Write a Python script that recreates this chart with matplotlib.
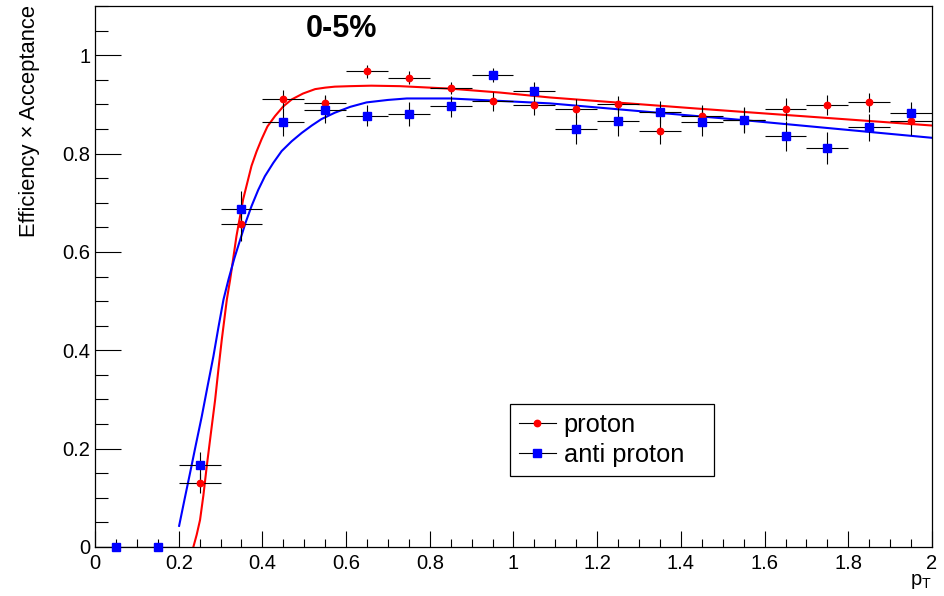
"""
Efficiency x acceptance of protons / anti-protons vs pT, 0-5% centrality.
ROOT-looking canvas redone in matplotlib, writes out.png.
"""

import matplotlib
matplotlib.use("Agg")
import matplotlib.pyplot as plt
from matplotlib.lines import Line2D
from matplotlib.ticker import MultipleLocator


# ============================ data ============================
PT       = [0.05, 0.15, 0.25, 0.35, 0.45, 0.55, 0.65, 0.75, 0.85, 0.95,
            1.05, 1.15, 1.25, 1.35, 1.45, 1.55, 1.65, 1.75, 1.85, 1.95]
PT_ERR   = [0.05] * len(PT)                      # half bin width

PROTON     = [0.0, 0.0, 0.130, 0.656, 0.911, 0.902, 0.967, 0.954, 0.933, 0.906,
              0.899, 0.891, 0.900, 0.846, 0.876, 0.868, 0.890, 0.899, 0.904, 0.866]
PROTON_ERR = [0.0, 0.0, 0.020, 0.033, 0.019, 0.018, 0.014, 0.013, 0.012, 0.020,
              0.020, 0.019, 0.018, 0.027, 0.022, 0.025, 0.022, 0.020, 0.020, 0.028]

ANTI       = [0.0, 0.0, 0.166, 0.688, 0.864, 0.889, 0.877, 0.880, 0.896, 0.960,
              0.928, 0.849, 0.866, 0.885, 0.865, 0.868, 0.836, 0.811, 0.853, 0.882]
ANTI_ERR   = [0.0, 0.0, 0.027, 0.035, 0.029, 0.027, 0.022, 0.024, 0.022, 0.014,
              0.017, 0.030, 0.031, 0.022, 0.029, 0.027, 0.031, 0.032, 0.028, 0.022]

# fit curves, points
FIT_P_X = [0.235, 0.243, 0.251, 0.259, 0.267, 0.277, 0.287, 0.295, 0.303, 0.315, 0.323,
           0.338, 0.354, 0.374, 0.386, 0.398, 0.412, 0.430, 0.450, 0.470, 0.497, 0.526,
           0.550, 0.573, 0.609, 0.660, 0.729, 0.848, 0.968, 1.087, 1.446, 2.0]
FIT_P_Y = [0.000, 0.025, 0.055, 0.105, 0.164, 0.232, 0.299, 0.362, 0.422, 0.503, 0.544,
           0.632, 0.707, 0.775, 0.804, 0.829, 0.855, 0.876, 0.896, 0.910, 0.922, 0.931,
           0.934, 0.936, 0.937, 0.938, 0.937, 0.932, 0.924, 0.914, 0.891, 0.857]

FIT_A_X = [0.201, 0.214, 0.227, 0.241, 0.255, 0.269, 0.283, 0.295, 0.307, 0.319, 0.333,
           0.347, 0.360, 0.374, 0.390, 0.406, 0.426, 0.446, 0.470, 0.494, 0.518, 0.541,
           0.573, 0.610, 0.649, 0.700, 0.745, 0.848, 0.968, 1.087, 1.549, 2.0]
FIT_A_Y = [0.043, 0.097, 0.150, 0.208, 0.265, 0.327, 0.388, 0.447, 0.503, 0.544, 0.587,
           0.625, 0.660, 0.693, 0.726, 0.754, 0.781, 0.805, 0.825, 0.842, 0.857, 0.870,
           0.883, 0.895, 0.904, 0.909, 0.912, 0.912, 0.907, 0.902, 0.868, 0.832]

TITLE  = "0-5%"
YLABEL = "Efficiency \u00d7 Acceptance"
XLABEL = r"p$_\mathregular{T}$"
# ==============================================================

plt.rcParams["font.family"] = ["Liberation Sans", "DejaVu Sans"]

fig = plt.figure(figsize=(9.45, 5.96), dpi=100)
ax = fig.add_axes([95 / 945, 49 / 596, 837 / 945, 541 / 596])

# fits first, points on top
ax.plot(FIT_P_X, FIT_P_Y, color="red", lw=1.5, zorder=2)
ax.plot(FIT_A_X, FIT_A_Y, color="blue", lw=1.5, zorder=2)

for y, yerr, col, mk, ms in [(PROTON, PROTON_ERR, "red", "o", 4.6),
                              (ANTI, ANTI_ERR, "blue", "s", 5.2)]:
    ax.errorbar(PT, y, xerr=PT_ERR, yerr=yerr, fmt="none", ecolor="black",
                elinewidth=0.8, capsize=0, zorder=3)
    ax.plot(PT, y, ls="none", marker=mk, ms=ms, color=col, mec=col, zorder=4,
            clip_on=False)

ax.set_xlim(0, 2)
ax.set_ylim(0, 1.1)
ax.xaxis.set_minor_locator(MultipleLocator(0.05))
ax.yaxis.set_minor_locator(MultipleLocator(0.05))
ax.set_xticks([0, 0.2, 0.4, 0.6, 0.8, 1, 1.2, 1.4, 1.6, 1.8, 2])
ax.set_xticklabels(["0", "0.2", "0.4", "0.6", "0.8", "1", "1.2", "1.4", "1.6", "1.8", "2"])
ax.set_yticks([0, 0.2, 0.4, 0.6, 0.8, 1])
ax.set_yticklabels(["0", "0.2", "0.4", "0.6", "0.8", "1"])

ax.tick_params(which="both", direction="in", top=False, right=False,
               labelsize=14.5, width=0.8)
ax.tick_params(axis="x", which="major", length=11.5, pad=5)
ax.tick_params(axis="x", which="minor", length=5.8)
ax.tick_params(axis="y", which="major", length=18.7, pad=3.5)
ax.tick_params(axis="y", which="minor", length=9.4)
for s in ax.spines.values():
    s.set_linewidth(0.9)

fig.text(341 / 945, 1 - 29 / 596, TITLE, fontsize=22, fontweight="bold",
         ha="center", va="center")
fig.text(29.5 / 945, 1 - 5 / 596, YLABEL, fontsize=15.8, rotation=90,
         ha="center", va="top")
ax.text(1.0, -0.047, XLABEL, transform=ax.transAxes, fontsize=14.5,
        ha="right", va="top")

handles = [Line2D([], [], color="black", lw=0.8, marker="o", ms=4.6,
                  mfc="red", mec="red"),
           Line2D([], [], color="black", lw=0.8, marker="s", ms=5.2,
                  mfc="blue", mec="blue")]
# fixed-width box, like the TLegend
leg = ax.legend(handles, ["proton", "anti proton"], loc="upper left",
                bbox_to_anchor=(0.496, 0.2643, 0.2436, 0.0), mode="expand",
                borderaxespad=0, fontsize=18.3,
                fancybox=False, edgecolor="black", framealpha=1,
                handlelength=1.45, handletextpad=0.3, borderpad=0.35,
                labelspacing=0.25)
leg.get_frame().set_linewidth(0.9)

fig.savefig("out.png", dpi=100)
